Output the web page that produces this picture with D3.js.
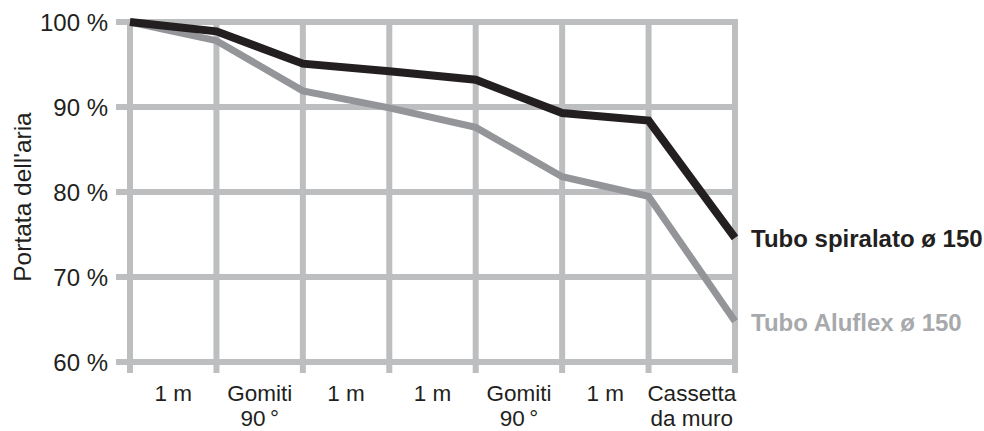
<body style="margin:0"></body>
<script src="https://d3js.org/d3.v7.min.js"></script>
<script>
// tick labels and values
const stepLabels = [["1 m"], ["Gomiti", "90\u2009°"], ["1 m"], ["1 m"], ["Gomiti", "90\u2009°"], ["1 m"], ["Cassetta", "da muro"]];
const yTicks = [60, 70, 80, 90, 100];
const spiralato = [100, 98.9, 95.1, 94.2, 93.2, 89.3, 88.4, 74.6];
const aluflex = [100, 97.8, 91.9, 89.9, 87.6, 81.8, 79.5, 64.8];
const seriesNames = ["Tubo spiralato ø 150", "Tubo Aluflex ø 150"];

const width = 984, height = 431;
const gridColor = "#bcbec0";

const svg = d3.select("body").append("svg")
    .attr("width", width)
    .attr("height", height)
    .style("font-family", "'Liberation Sans', Arial, sans-serif");

const x = d3.scaleLinear().domain([0, 7]).range([130, 735]);
const y = d3.scaleLinear().domain([60, 100]).range([362, 22]);

// grid
svg.append("g").selectAll("line")
    .data(yTicks)
    .enter().append("line")
    .attr("x1", 116).attr("x2", x(7) + 3)
    .attr("y1", d => y(d)).attr("y2", d => y(d))
    .attr("stroke", gridColor).attr("stroke-width", 6);

svg.append("g").selectAll("line")
    .data(d3.range(8))
    .enter().append("line")
    .attr("x1", d => x(d)).attr("x2", d => x(d))
    .attr("y1", y(100) - 3).attr("y2", y(60) + 11)
    .attr("stroke", gridColor).attr("stroke-width", 6);

// y labels
svg.append("g").selectAll("text")
    .data(yTicks)
    .enter().append("text")
    .attr("x", 108)
    .attr("y", d => y(d))
    .attr("dy", "0.36em")
    .attr("text-anchor", "end")
    .attr("font-size", 24)
    .attr("fill", "#231f20")
    .text(d => d + " %");

svg.append("text")
    .attr("transform", "translate(31,197) rotate(-90)")
    .attr("text-anchor", "middle")
    .attr("font-size", 24.5)
    .attr("fill", "#231f20")
    .text("Portata dell'aria");

// x labels, centred between grid lines
const xl = svg.append("g").selectAll("text")
    .data(stepLabels)
    .enter().append("text")
    .attr("text-anchor", "middle")
    .attr("font-size", 22.5)
    .attr("fill", "#231f20");
xl.selectAll("tspan")
    .data((d, i) => d.map(t => ({ t: t, i: i })))
    .enter().append("tspan")
    .attr("x", d => x(d.i + 0.5))
    .attr("y", (d, j) => 401 + j * 25)
    .text(d => d.t);

// lines
const line = d3.line()
    .x((d, i) => x(i))
    .y(d => y(d));

svg.append("path")
    .attr("d", line(aluflex))
    .attr("fill", "none")
    .attr("stroke", "#939598")
    .attr("stroke-width", 7);

svg.append("path")
    .attr("d", line(spiralato))
    .attr("fill", "none")
    .attr("stroke", "#231f20")
    .attr("stroke-width", 8);

svg.append("text")
    .attr("x", 751).attr("y", 247)
    .attr("font-size", 24).attr("font-weight", "bold")
    .attr("fill", "#231f20")
    .text(seriesNames[0]);

svg.append("text")
    .attr("x", 751).attr("y", 331)
    .attr("font-size", 24).attr("font-weight", "bold")
    .attr("fill", "#a7a9ac")
    .text(seriesNames[1]);
</script>
